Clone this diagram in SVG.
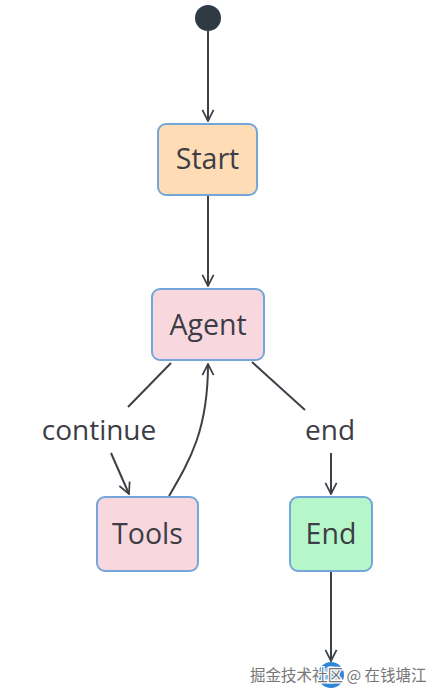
<svg xmlns="http://www.w3.org/2000/svg" width="431" height="697" viewBox="0 0 431 697">
<style>
.node rect{stroke:#74a6d9;stroke-width:2}
.lbl{font-family:"Open Sans","Liberation Sans",sans-serif;font-size:28.5px;fill:#3d3d45;text-anchor:middle}
.edge{fill:none;stroke:#3c4148;stroke-width:2}
.elbl{font-family:"Open Sans","Liberation Sans",sans-serif;font-size:28px;fill:#3d3d45;text-anchor:middle}
.wm{font-family:"Noto Sans CJK SC","Liberation Sans",sans-serif;font-size:15.5px;fill:#777;stroke:#fff;stroke-width:2.5;paint-order:stroke;text-anchor:start}
</style>
<defs>
<marker id="arr" viewBox="0 0 20 20" refX="18" refY="10" markerWidth="14" markerHeight="14" markerUnits="userSpaceOnUse" orient="auto">
<path d="M2,2 L18,10 L2,18" fill="none" stroke="#3c4148" stroke-width="2.5"/>
</marker>
</defs>
<rect width="431" height="697" fill="#fff"/>
<g id="connectors">
<line class="edge" x1="208" y1="31" x2="208" y2="121" marker-end="url(#arr)"/>
<line class="edge" x1="208" y1="196" x2="208" y2="286" marker-end="url(#arr)"/>
<path class="edge" d="M171,363 L128,407"/>
<path class="edge" d="M111,453 L129,494" marker-end="url(#arr)"/>
<path class="edge" d="M169,496 C190,460 208,430 208,364" marker-end="url(#arr)"/>
<path class="edge" d="M252,362 L305,410"/>
<path class="edge" d="M331,453 L331,494" marker-end="url(#arr)"/>
<line class="edge" x1="331" y1="572" x2="331" y2="661" marker-end="url(#arr)"/>
<text class="elbl" x="99" y="440">continue</text>
<text class="elbl" x="330" y="440">end</text>
</g>
<g id="start-point"><circle cx="208" cy="18" r="13" fill="#2f3a44"/></g>
<g id="start" class="node"><rect x="158" y="124" width="99" height="71" rx="8" fill="#fedcb6"/><text class="lbl" x="207.5" y="169">Start</text></g>
<g id="agent" class="node"><rect x="152" y="289" width="112" height="71" rx="8" fill="#f9d7de"/><text class="lbl" x="208" y="335">Agent</text></g>
<g id="tools" class="node"><rect x="97" y="497" width="101" height="74" rx="8" fill="#f9d7de"/><text class="lbl" x="147.5" y="544">Tools</text></g>
<g id="end" class="node"><rect x="290" y="497" width="82" height="74" rx="8" fill="#b6f7c9"/><text class="lbl" x="331" y="544">End</text></g>
<g id="end-point"><circle cx="331" cy="675" r="11" fill="#9fcdf3" stroke="#2f86d8" stroke-width="4"/><circle cx="331" cy="675" r="5" fill="#5aa4e6"/></g>
<text class="wm" x="250" y="681">掘金技术社区 @ 在钱塘江</text>
</svg>
